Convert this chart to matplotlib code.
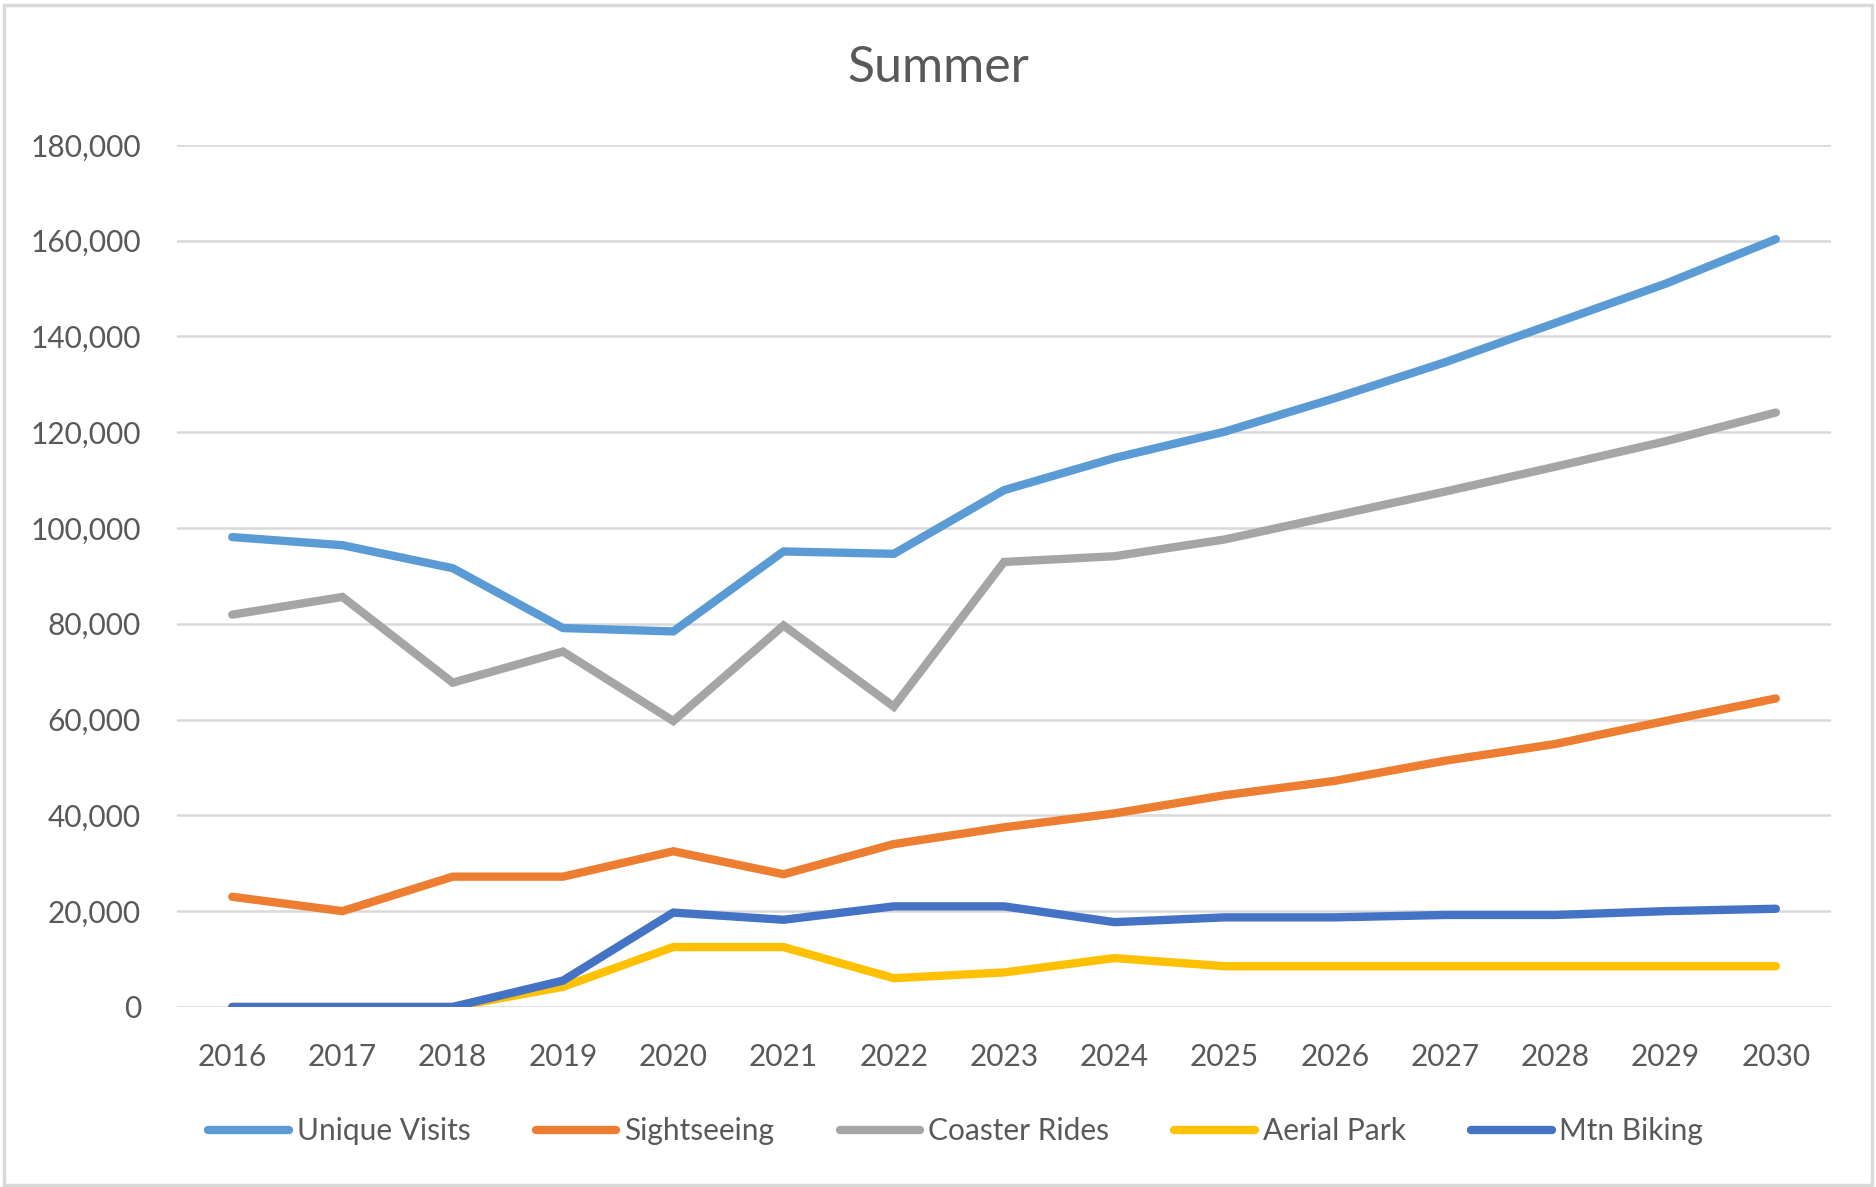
import matplotlib.pyplot as plt
from matplotlib.patches import Rectangle

years = [2016, 2017, 2018, 2019, 2020, 2021, 2022, 2023, 2024, 2025, 2026, 2027, 2028, 2029, 2030]
unique_visits = [98100, 96400, 91600, 79100, 78400, 95100, 94600, 107900, 114600, 120100,
                 127100, 134600, 142800, 151000, 160300]
sightseeing = [23000, 20000, 27200, 27200, 32500, 27700, 34000, 37500, 40400, 44200,
               47200, 51400, 54900, 59700, 64400]
coaster_rides = [81900, 85600, 67700, 74200, 59700, 79650, 62700, 92900, 94100, 97600,
                 102600, 107600, 112800, 118100, 124100]
aerial_park = [0, 0, 0, 4200, 12500, 12500, 6000, 7200, 10200, 8500,
               8500, 8500, 8500, 8500, 8500]
mtn_biking = [0, 0, 0, 5500, 19700, 18200, 21000, 21000, 17700, 18700,
              18700, 19200, 19200, 20000, 20500]

series = [
    ("Unique Visits", unique_visits, "#5B9BD5"),
    ("Sightseeing", sightseeing, "#ED7D31"),
    ("Coaster Rides", coaster_rides, "#A5A5A5"),
    ("Aerial Park", aerial_park, "#FFC000"),
    ("Mtn Biking", mtn_biking, "#4472C4"),
]

plt.rcParams['font.family'] = ['Lato', 'DejaVu Sans']
text_color = "#595959"

fig = plt.figure(figsize=(18.76, 11.87), dpi=100)
ax = fig.add_axes([0.0944, 0.1517, 0.8816, 0.7263])

x = list(range(len(years)))
for name, vals, color in series:
    ax.plot(x, vals, color=color, lw=6, label=name, solid_capstyle='round',
            solid_joinstyle='miter')

ax.set_xlim(-0.5, len(years) - 0.5)
ax.set_ylim(0, 180000)
ax.set_yticks(range(0, 180001, 20000))
ax.set_yticklabels([f"{v:,}" for v in range(0, 180001, 20000)])
ax.set_xticks(x)
ax.set_xticklabels([str(y) for y in years])
ax.tick_params(axis='y', length=0, pad=26, labelsize=21.5, labelcolor=text_color)
ax.tick_params(axis='x', length=0, pad=26, labelsize=21.5, labelcolor=text_color)

ax.grid(axis='y', color='#D9D9D9', lw=1.8)
ax.set_axisbelow(True)
for s in ax.spines.values():
    s.set_visible(False)

fig.text(0.5, 0.943, "Summer", ha='center', va='center', fontsize=36, color=text_color)

leg = fig.legend(loc='center', bbox_to_anchor=(0.5095, 0.047), ncol=5, frameon=False,
                 fontsize=21.5, handlelength=2.7, handletextpad=0.25, columnspacing=2.2)
for t in leg.get_texts():
    t.set_color(text_color)

fig.patches.append(Rectangle((0.002, 0.002), 0.996, 0.994, transform=fig.transFigure,
                             fill=False, edgecolor='#D9D9D9', lw=2.5))

fig.savefig("out.png", dpi=100)
